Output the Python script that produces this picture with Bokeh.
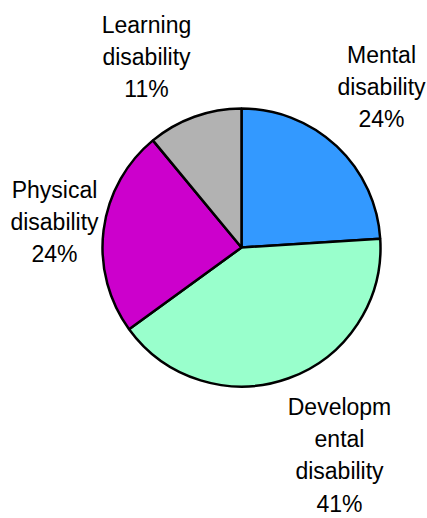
import math
from bokeh.plotting import figure
from bokeh.models import ColumnDataSource, Range1d
from bokeh.core.properties import value
from bokeh.embed import file_html
from bokeh.resources import INLINE

# data
categories = ["Mental disability", "Developmental disability", "Physical disability", "Learning disability"]
percents = [24, 41, 24, 11]
colors = ["#3399FF", "#99FFCC", "#CC00CC", "#B2B2B2"]
label_lines = [
    ["Mental", "disability", "24%"],
    ["Developm", "ental", "disability", "41%"],
    ["Physical", "disability", "24%"],
    ["Learning", "disability", "11%"],
]

W, H = 427, 518
p = figure(width=W, height=H, output_backend="svg", toolbar_location=None,
           x_range=Range1d(0, W), y_range=Range1d(0, H), min_border=0)
p.axis.visible = False
p.grid.visible = False
p.outline_line_color = None

def sx(x):
    return x
def sy(y):
    return H - y

cx, cy, r = sx(241), sy(247), 139
starts, ends = [], []
cum = 0.0
for v in percents:
    starts.append(math.pi / 2 - cum / 100 * 2 * math.pi)
    cum += v
    ends.append(math.pi / 2 - cum / 100 * 2 * math.pi)

src = ColumnDataSource(dict(x=[cx] * 4, y=[cy] * 4, start=starts, end=ends,
                            color=colors, cat=categories, pct=percents))
p.wedge(x="x", y="y", radius=r, start_angle="start", end_angle="end",
        direction="clock", fill_color="color", line_color="black",
        line_width=2.5, source=src)

# label anchors (screen px): center x, first baseline y
anchors = [(381, 54), (339, 406), (54, 189), (146, 24)]
line_gap = 32.4
tx, ty, tt = [], [], []
for (ax, ay), lines in zip(anchors, label_lines):
    for i, t in enumerate(lines):
        tx.append(sx(ax))
        ty.append(sy(ay + i * line_gap))
        tt.append(t)
p.text(x=tx, y=ty, text=tt, text_align="center", text_baseline="alphabetic",
       text_font=value("Liberation Sans"), text_font_size="23px",
       text_color="black")

open("out.html", "w").write(file_html(p, INLINE))
